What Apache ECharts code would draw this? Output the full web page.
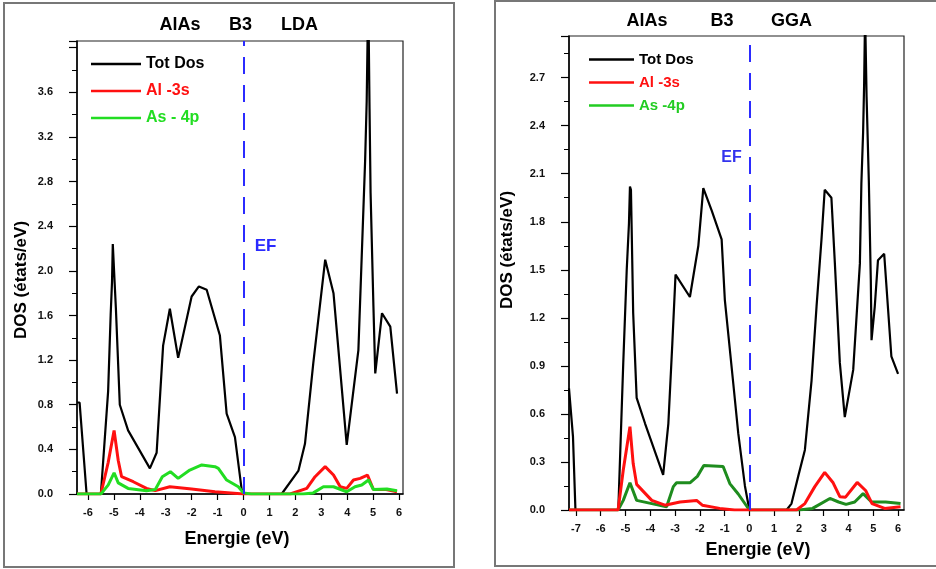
<!DOCTYPE html>
<html>
<head>
<meta charset="utf-8">
<script src="https://cdn.jsdelivr.net/npm/echarts@6/dist/echarts.min.js"></script>
<style>
  html, body { margin: 0; padding: 0; background: #fff; }
  #pic { width: 936px; height: 569px; }
</style>
</head>
<body>
<div id="pic"></div>
<script>
// AlAs B3 density of states, left = LDA, right = GGA. pairs are [energie eV, DOS]
var ldaTot = [[-6.42,0.82],[-6.32,0.82],[-6.05,0],[-5.5,0],[-5.22,0.92],[-5.12,1.62],[-5.07,1.9],[-5.04,2.24],[-5.0,2.24],[-4.97,1.9],[-4.92,1.66],[-4.77,0.8],[-4.45,0.57],[-3.61,0.23],[-3.35,0.37],[-3.1,1.33],[-2.84,1.66],[-2.52,1.22],[-2.0,1.77],[-1.72,1.86],[-1.42,1.83],[-0.91,1.42],[-0.65,0.72],[-0.33,0.51],[-0.07,0.04],[0,0],[1.47,0],[2.12,0.21],[2.37,0.45],[2.69,1.17],[3.15,2.1],[3.47,1.8],[3.98,0.44],[4.43,1.29],[4.69,2.99],[4.75,3.52],[4.81,4.5],[4.86,3.45],[4.9,2.7],[5.01,1.68],[5.08,1.08],[5.34,1.62],[5.66,1.5],[5.92,0.9]];
var ldaAl3s = [[-6.42,0],[-5.5,0],[-5.22,0.28],[-4.99,0.57],[-4.83,0.3],[-4.7,0.155],[-4.25,0.11],[-3.74,0.05],[-3.4,0.03],[-2.84,0.065],[-2.0,0.045],[-1.1,0.02],[0,0],[1.8,0],[2.44,0.05],[2.76,0.155],[3.15,0.245],[3.47,0.17],[3.73,0.065],[3.98,0.05],[4.24,0.125],[4.5,0.14],[4.78,0.17],[5.01,0.04],[5.5,0.04],[5.92,0.02]];
var ldaAs4p = [[-6.42,0],[-5.5,0],[-5.22,0.08],[-4.99,0.19],[-4.83,0.1],[-4.45,0.05],[-3.74,0.03],[-3.4,0.04],[-3.13,0.155],[-2.82,0.2],[-2.52,0.14],[-2.07,0.215],[-1.61,0.26],[-1.1,0.245],[-0.97,0.23],[-0.65,0.125],[-0.2,0.065],[0,0.01],[0.3,0],[2.3,0],[2.69,0.01],[3.08,0.065],[3.47,0.065],[3.98,0.02],[4.3,0.065],[4.56,0.08],[4.82,0.125],[5.01,0.04],[5.53,0.045],[5.92,0.03]];

var ggaTot = [[-7.28,0.76],[-7.2,0.75],[-7.12,0.46],[-7.02,0],[-5.29,0],[-5.09,0.92],[-4.95,1.5],[-4.86,1.79],[-4.82,2.02],[-4.78,2.0],[-4.75,1.75],[-4.69,1.23],[-4.55,0.7],[-4.21,0.54],[-3.48,0.22],[-3.27,0.54],[-3.11,1.04],[-2.98,1.47],[-2.4,1.33],[-2.06,1.65],[-1.86,2.01],[-1.52,1.87],[-1.12,1.69],[-0.99,1.31],[-0.65,0.79],[-0.45,0.48],[-0.18,0.15],[0,0],[1.5,0],[1.7,0.04],[1.97,0.21],[2.24,0.375],[2.51,0.81],[2.71,1.27],[2.91,1.69],[3.04,2.0],[3.31,1.95],[3.45,1.54],[3.65,0.92],[3.85,0.58],[4.19,0.875],[4.46,1.54],[4.52,2.04],[4.59,2.36],[4.63,2.65],[4.67,3.1],[4.73,2.58],[4.82,2.06],[4.9,1.44],[4.93,1.06],[5.06,1.27],[5.19,1.56],[5.44,1.6],[5.73,0.96],[6.0,0.85]];
var ggaAl3s = [[-7.28,0],[-5.3,0],[-5.09,0.25],[-4.82,0.52],[-4.69,0.29],[-4.55,0.16],[-3.94,0.06],[-3.41,0.03],[-2.8,0.05],[-2.13,0.06],[-1.9,0.03],[-1.2,0.01],[-0.6,0],[1.9,0],[2.24,0.04],[2.64,0.146],[3.04,0.235],[3.38,0.17],[3.65,0.083],[3.88,0.08],[4.35,0.172],[4.7,0.12],[4.95,0.04],[5.46,0.01],[6.1,0.02]];
var ggaAs4p = [[-7.28,0],[-5.3,0],[-5.09,0.06],[-4.82,0.17],[-4.55,0.06],[-3.94,0.04],[-3.34,0.02],[-3.07,0.146],[-2.94,0.17],[-2.4,0.17],[-2.1,0.21],[-1.84,0.278],[-1.06,0.272],[-0.79,0.165],[-0.45,0.1],[0,0],[2.0,0],[2.55,0.01],[3.25,0.072],[3.6,0.05],[3.9,0.035],[4.25,0.05],[4.59,0.102],[4.93,0.05],[5.5,0.05],[6.1,0.04]];

var ldaXTicks = [-6,-5,-4,-3,-2,-1,0,1,2,3,4,5,6];
var ggaXTicks = [-7,-6,-5,-4,-3,-2,-1,0,1,2,3,4,5,6];

var FONT = 'Liberation Sans';
var chart = echarts.init(document.getElementById('pic'));

function xAxisOf(idx, lo, hi, ticks) {
  return {
    gridIndex: idx, type: 'value', min: lo, max: hi,
    axisLine: { show: true, onZero: false, lineStyle: { color: '#000', width: 1.5 } },
    axisTick: { show: true, customValues: ticks, length: 6, lineStyle: { color: '#000', width: 1.2 } },
    axisLabel: { customValues: ticks, margin: 13, color: '#111', fontSize: 11, fontWeight: 'bold', fontFamily: FONT },
    splitLine: { show: false }
  };
}
function yAxisOf(idx, hi, step, lastLabel) {
  return {
    gridIndex: idx, type: 'value', min: 0, max: hi, interval: step,
    axisLine: { show: true, onZero: false, lineStyle: { color: '#000', width: 1.5 } },
    axisTick: { show: true, length: 8, lineStyle: { color: '#000', width: 1.2 } },
    minorTick: { show: true, splitNumber: 2, length: 5, lineStyle: { color: '#000', width: 1 } },
    axisLabel: {
      margin: 24, color: '#111', fontSize: 11, fontWeight: 'bold', fontFamily: FONT,
      formatter: function (v) { return v > lastLabel + 0.01 ? '' : v.toFixed(1); }
    },
    splitLine: { show: false }
  };
}
function efLine() {
  return {
    silent: true, symbol: 'none', label: { show: false },
    lineStyle: { color: '#2b2bff', type: [17, 11], width: 2 },
    data: [{ xAxis: 0 }]
  };
}
function txt(x, y, s, size, color, rot) {
  return {
    type: 'text', x: x, y: y, rotation: rot || 0, silent: true,
    style: {
      text: s, fill: color || '#000', font: 'bold ' + size + 'px "' + FONT + '"',
      align: 'center', verticalAlign: 'middle', textAlign: 'center', textVerticalAlign: 'middle'
    }
  };
}

var option = {
  backgroundColor: '#fff',
  animation: false,
  grid: [
    { left: 77, top: 41, width: 326, height: 453, show: true, borderColor: '#222', borderWidth: 1.2 },
    { left: 569, top: 36, width: 335, height: 474, show: true, borderColor: '#222', borderWidth: 1.2 }
  ],
  xAxis: [ xAxisOf(0, -6.42, 6.15, ldaXTicks), xAxisOf(1, -7.28, 6.24, ggaXTicks) ],
  yAxis: [ yAxisOf(0, 4.06, 0.4, 3.6), yAxisOf(1, 2.96, 0.3, 2.7) ],
  legend: [
    {
      left: 86, top: 51, orient: 'vertical', icon: 'rect', itemWidth: 50, itemHeight: 2.5, itemGap: 11,
      textStyle: { fontSize: 16, lineHeight: 16, fontWeight: 'bold', fontFamily: FONT },
      data: [
        { name: 'Tot Dos', textStyle: { color: '#000' } },
        { name: 'Al -3s', textStyle: { color: '#ff1010' } },
        { name: 'As - 4p', textStyle: { color: '#22dd22' } }
      ]
    },
    {
      left: 584, top: 47, orient: 'vertical', icon: 'rect', itemWidth: 45, itemHeight: 2.5, itemGap: 8,
      textStyle: { fontSize: 15, lineHeight: 15, fontWeight: 'bold', fontFamily: FONT },
      data: [
        { name: 'Tot Dos', textStyle: { color: '#000' } },
        { name: 'Al -3s', textStyle: { color: '#ff1010' } },
        { name: 'As -4p', textStyle: { color: '#22cc22' }, itemStyle: { color: '#22cc22' } }
      ]
    }
  ],
  series: [
    { name: 'Tot Dos', type: 'line', xAxisIndex: 0, yAxisIndex: 0, data: ldaTot, symbol: 'none', color: '#000', lineStyle: { width: 2.2 }, markLine: efLine() },
    { name: 'Al -3s', type: 'line', xAxisIndex: 0, yAxisIndex: 0, data: ldaAl3s, symbol: 'none', color: '#ff1010', lineStyle: { width: 3 } },
    { name: 'As - 4p', type: 'line', xAxisIndex: 0, yAxisIndex: 0, data: ldaAs4p, symbol: 'none', color: '#22dd22', lineStyle: { width: 3 } },
    { name: 'Tot Dos', type: 'line', xAxisIndex: 1, yAxisIndex: 1, data: ggaTot, symbol: 'none', color: '#000', lineStyle: { width: 2.2 }, markLine: efLine() },
    { name: 'As -4p', type: 'line', xAxisIndex: 1, yAxisIndex: 1, data: ggaAs4p, symbol: 'none', color: '#1e8c1e', lineStyle: { width: 3 } },
    { name: 'Al -3s', type: 'line', xAxisIndex: 1, yAxisIndex: 1, data: ggaAl3s, symbol: 'none', color: '#ff1010', lineStyle: { width: 3 } }
  ],
  graphic: [
    // panel frames
    { type: 'rect', silent: true, z: -1, shape: { x: 4, y: 3, width: 450, height: 564 }, style: { fill: null, stroke: '#777', lineWidth: 2 } },
    { type: 'rect', silent: true, z: -1, shape: { x: 495, y: 1, width: 470, height: 565 }, style: { fill: null, stroke: '#777', lineWidth: 2 } },
    // titles
    txt(180, 25, 'AlAs', 18), txt(240.5, 25, 'B3', 18), txt(299.5, 25, 'LDA', 18),
    txt(647, 21, 'AlAs', 18), txt(722, 21, 'B3', 18), txt(791.5, 21, 'GGA', 18),
    // fermi labels
    txt(265.5, 246, 'EF', 17, '#2a2aff'), txt(731.5, 158, 'EF', 16, '#3333ee'),
    // axis names
    txt(237, 539, 'Energie (eV)', 18), txt(758, 550, 'Energie (eV)', 18),
    txt(21, 280, 'DOS (états/eV)', 17, '#000', Math.PI / 2),
    txt(507, 250, 'DOS (états/eV)', 17, '#000', Math.PI / 2)
  ]
};
chart.setOption(option);
</script>
</body>
</html>
